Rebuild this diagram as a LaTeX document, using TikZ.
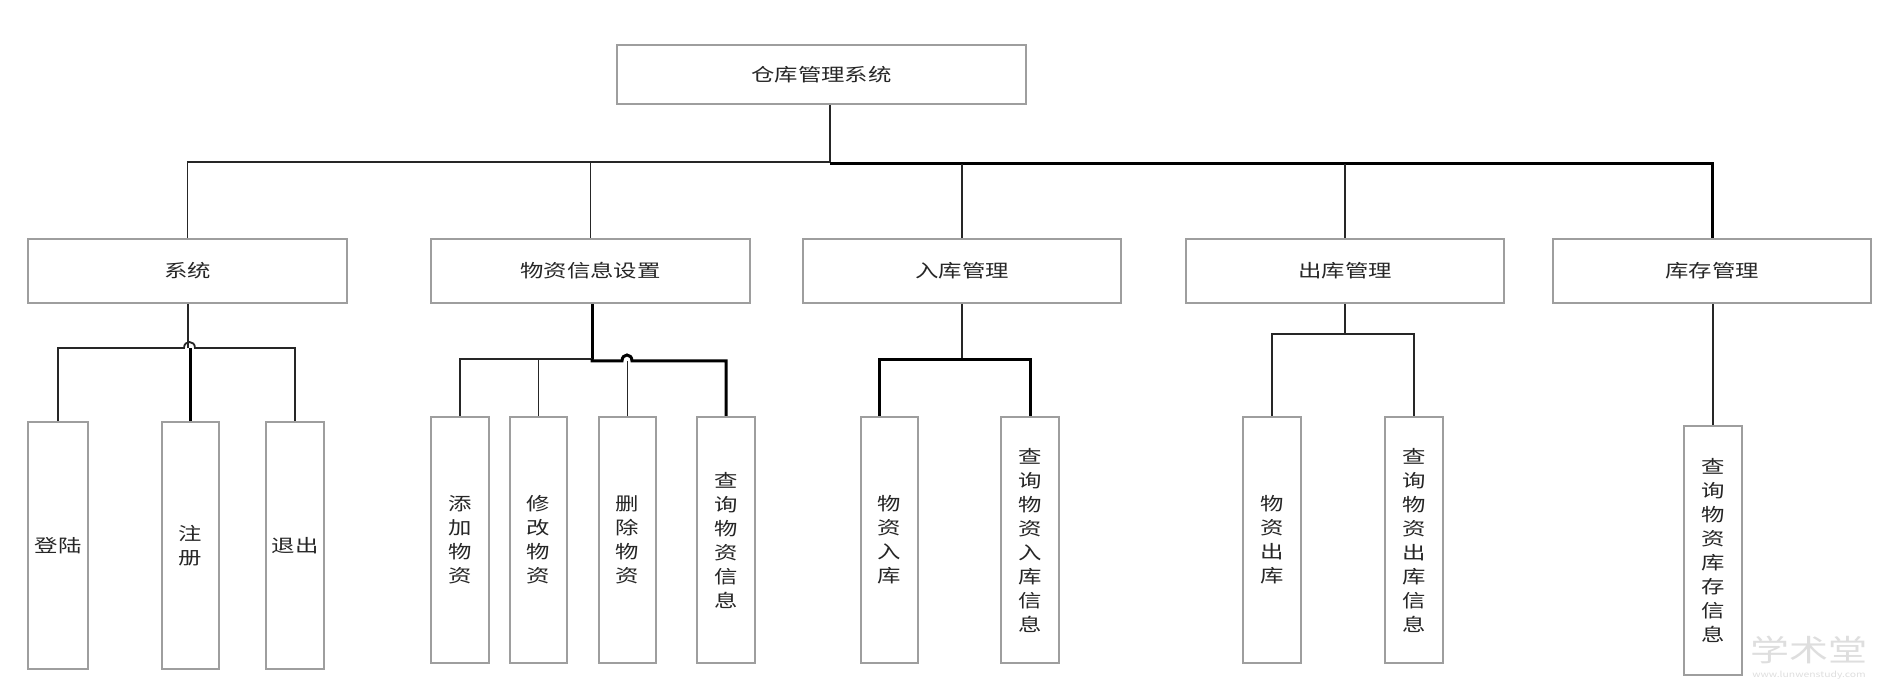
\documentclass[tikz,border=0pt]{standalone}
\usepackage{fontspec}
\setmainfont{Noto Sans CJK SC}[FakeStretch=1.3]
\usepackage{tikz}
\usetikzlibrary{positioning}

\begin{document}
\begin{tikzpicture}[x=0.5pt,y=-0.5pt,
  box/.style={draw=black!38,line width=1pt,fill=white,inner sep=0pt,text=black!85,
    font=\fontsize{9}{12}\selectfont,align=center},
  conn/.style={draw=black!85,line width=0.9pt},
  connb/.style={draw=black,line width=1.5pt}]
  \useasboundingbox (0,0) rectangle (1894,699);
  % top
  \node[box,minimum width=204.5pt,minimum height=29.5pt] (root) at (821.5,74.5) {仓库管理系统};
  % second row
  \node[box,minimum width=159.5pt,minimum height=32pt] (sys) at (187.5,271) {系统};
  \node[box,minimum width=159.5pt,minimum height=32pt] (info) at (590.5,271) {物资信息设置};
  \node[box,minimum width=159pt,minimum height=32pt] (in) at (962,271) {入库管理};
  \node[box,minimum width=159pt,minimum height=32pt] (out) at (1345,271) {出库管理};
  \node[box,minimum width=159pt,minimum height=32pt] (stock) at (1712,271) {库存管理};
  % third row
  \node[box,minimum width=30pt,minimum height=123.5pt] (login) at (58,545.5) {登陆};
  \node[box,minimum width=28.5pt,minimum height=123.5pt] (reg) at (190.5,545.5) {注\\册};
  \node[box,minimum width=29pt,minimum height=123.5pt] (quit) at (295,545.5) {退出};
  \node[box,minimum width=29pt,minimum height=123pt] (add) at (460,540) {添\\加\\物\\资};
  \node[box,minimum width=28.5pt,minimum height=123pt] (mod) at (538.5,540) {修\\改\\物\\资};
  \node[box,minimum width=28.5pt,minimum height=123pt] (del) at (627.5,540) {删\\除\\物\\资};
  \node[box,minimum width=29pt,minimum height=123pt] (qry) at (726,540) {查\\询\\物\\资\\信\\息};
  \node[box,minimum width=28.5pt,minimum height=123pt] (inm) at (889.5,540) {物\\资\\入\\库};
  \node[box,minimum width=29pt,minimum height=123pt] (inq) at (1030,540) {查\\询\\物\\资\\入\\库\\信\\息};
  \node[box,minimum width=29pt,minimum height=123pt] (outm) at (1272,540) {物\\资\\出\\库};
  \node[box,minimum width=29pt,minimum height=123pt] (outq) at (1414,540) {查\\询\\物\\资\\出\\库\\信\\息};
  \node[box,minimum width=29pt,minimum height=124.5pt] (stq) at (1713,550.5) {查\\询\\物\\资\\库\\存\\信\\息};
  % junctions
  \coordinate (j0) at (830,162);
  \coordinate (j1) at (830,164);
  \coordinate (s0) at (188,348);
  \coordinate (s0a) at (184,348);
  \coordinate (s0b) at (195,348);
  \coordinate (i0) at (592,359);
  \coordinate (i1) at (592,361);
  \coordinate (ha) at (622,361);
  \coordinate (hb) at (632,361);
  \coordinate (n0) at (963,360);
  \coordinate (o0) at (1345,334);
  % root to second row
  \draw[conn] (root.south -| j0) -- (j0) -| (sys.north);
  \draw[conn] (info.north) -- (info.north |- j0);
  \draw[connb] (j1) -| (stock.north);
  \draw[conn] (in.north) -- (in.north |- j1);
  \draw[conn] (out.north) -- (out.north |- j1);
  % system
  \draw[conn] (sys.south -| s0) -- (s0);
  \draw[conn] (login.north) |- (s0a) .. controls +(0,-8) and +(0,-8) .. (s0b) -| (quit.north);
  \draw[connb] (reg.north) -- (reg.north |- s0);
  % info
  \draw[connb] (info.south -| i0) -- (i0);
  \draw[conn] (i0) -| (add.north);
  \draw[conn] (mod.north) -- (mod.north |- i0);
  \draw[connb] (i0) -- (i1) -- (ha) .. controls +(0,-8) and +(0,-8) .. (hb) -| (qry.north);
  \draw[conn] (del.north) -- (del.north |- i1);
  % in
  \draw[conn] (in.south) -- (in.south |- n0);
  \draw[connb] ([xshift=-5pt]inm.north) |- (n0) -| (inq.north);
  % out
  \draw[conn] (out.south) -- (out.south |- o0);
  \draw[conn] (outm.north) |- (o0) -| (outq.north);
  % stock
  \draw[conn] (stq.north |- stock.south) -- (stq.north);
  % watermark
  \node[text=black!13,font=\fontsize{15}{15}\selectfont,inner sep=0pt] (wm) at (1809,650) {学术堂};
  \node[text=black!13,font=\fontsize{4}{4}\selectfont,inner sep=0pt,below=3pt of wm] (wmurl) {www.lunwenstudy.com};
\end{tikzpicture}
\end{document}
